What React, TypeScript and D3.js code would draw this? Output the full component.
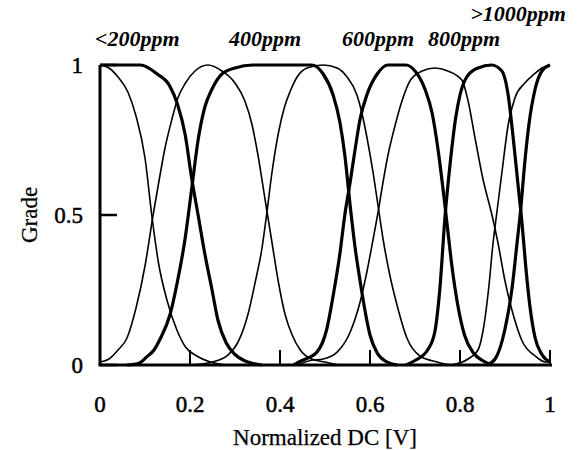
import React from 'react';
import * as d3 from 'd3';

// membership curves: [normalized DC, grade]
const thinA = [[0, 1], [0.02, 0.99], [0.04, 0.96], [0.062, 0.91], [0.08, 0.83], [0.1, 0.69], [0.115, 0.5], [0.13, 0.34], [0.15, 0.21], [0.17, 0.12], [0.19, 0.06], [0.215, 0.03], [0.245, 0.01], [0.28, 0]];
const thinB = [[0, 0.01], [0.02, 0.02], [0.04, 0.05], [0.06, 0.09], [0.08, 0.19], [0.1, 0.33], [0.118, 0.5], [0.133, 0.63], [0.144, 0.72], [0.16, 0.82], [0.173, 0.89], [0.19, 0.94], [0.211, 0.98], [0.24, 1], [0.271, 0.98], [0.3, 0.94], [0.322, 0.88], [0.338, 0.8], [0.351, 0.7], [0.367, 0.55], [0.382, 0.41], [0.396, 0.28], [0.411, 0.17], [0.427, 0.1], [0.445, 0.05], [0.47, 0.02], [0.5, 0.01], [0.53, 0]];
const thinC = [[0.2, 0], [0.25, 0.01], [0.284, 0.033], [0.307, 0.077], [0.329, 0.17], [0.344, 0.27], [0.36, 0.39], [0.371, 0.51], [0.382, 0.64], [0.396, 0.77], [0.41, 0.86], [0.422, 0.91], [0.438, 0.96], [0.46, 0.99], [0.496, 1], [0.527, 0.99], [0.549, 0.96], [0.571, 0.9], [0.582, 0.84], [0.593, 0.76], [0.607, 0.64], [0.618, 0.53], [0.629, 0.42], [0.644, 0.3], [0.66, 0.2], [0.682, 0.09], [0.711, 0.03], [0.749, 0.01], [0.78, 0]];
const thinD = [[0.44, 0], [0.467, 0.015], [0.496, 0.02], [0.527, 0.043], [0.556, 0.11], [0.578, 0.21], [0.593, 0.31], [0.607, 0.42], [0.618, 0.51], [0.629, 0.61], [0.64, 0.7], [0.656, 0.8], [0.671, 0.88], [0.69, 0.95], [0.716, 0.98], [0.744, 0.99], [0.773, 0.98], [0.804, 0.95], [0.818, 0.88], [0.833, 0.76], [0.851, 0.62], [0.871, 0.5], [0.884, 0.41], [0.9, 0.28], [0.916, 0.18], [0.938, 0.08], [0.967, 0.03], [0.99, 0.01], [1, 0.01]];
const thinE = [[0.78, 0], [0.818, 0.02], [0.84, 0.05], [0.853, 0.13], [0.864, 0.26], [0.873, 0.4], [0.882, 0.51], [0.893, 0.64], [0.907, 0.8], [0.922, 0.89], [0.944, 0.94], [0.965, 0.97], [0.982, 0.99], [1, 1]];

const thick200 = [[0, 1], [0.09, 1], [0.127, 0.97], [0.155, 0.93], [0.172, 0.87], [0.189, 0.77], [0.204, 0.62], [0.218, 0.5], [0.233, 0.37], [0.249, 0.25], [0.262, 0.15], [0.28, 0.075], [0.3, 0.035], [0.32, 0.015], [0.34, 0.005], [0.36, 0]];
const thick400 = [[0.06, 0], [0.085, 0.005], [0.104, 0.027], [0.12, 0.05], [0.133, 0.085], [0.156, 0.17], [0.171, 0.27], [0.189, 0.42], [0.204, 0.59], [0.218, 0.75], [0.233, 0.86], [0.249, 0.92], [0.271, 0.97], [0.3, 0.99], [0.34, 1], [0.47, 1], [0.496, 0.97], [0.518, 0.9], [0.533, 0.81], [0.544, 0.7], [0.556, 0.53], [0.567, 0.39], [0.578, 0.28], [0.589, 0.18], [0.6, 0.1], [0.616, 0.04], [0.638, 0.01], [0.66, 0]];
const thick600 = [[0.43, 0], [0.449, 0.015], [0.482, 0.043], [0.504, 0.12], [0.518, 0.23], [0.533, 0.37], [0.544, 0.5], [0.556, 0.61], [0.567, 0.72], [0.578, 0.82], [0.593, 0.9], [0.616, 0.97], [0.64, 1], [0.68, 1], [0.7, 0.98], [0.722, 0.92], [0.738, 0.84], [0.751, 0.72], [0.762, 0.59], [0.772, 0.46], [0.782, 0.33], [0.795, 0.2], [0.81, 0.1], [0.83, 0.04], [0.85, 0.015], [0.87, 0]];
const thick800 = [[0.68, 0], [0.7, 0.015], [0.728, 0.05], [0.744, 0.11], [0.755, 0.25], [0.767, 0.5], [0.778, 0.67], [0.79, 0.82], [0.8, 0.9], [0.815, 0.96], [0.84, 0.99], [0.87, 1], [0.893, 0.98], [0.907, 0.9], [0.918, 0.76], [0.929, 0.6], [0.938, 0.47], [0.946, 0.33], [0.955, 0.2], [0.967, 0.09], [0.982, 0.035], [1, 0.01]];
const thick1000 = [[0.86, 0], [0.878, 0.02], [0.9, 0.12], [0.916, 0.26], [0.927, 0.41], [0.935, 0.52], [0.943, 0.66], [0.953, 0.8], [0.967, 0.92], [0.982, 0.98], [1, 1]];

const thinCurves = [thinA, thinB, thinC, thinD, thinE];
const thickCurves = [thick200, thick400, thick600, thick800, thick1000];

const ppmLabels = ['<200ppm', '400ppm', '600ppm', '800ppm', '>1000ppm'];
const xTicks = [0, 0.2, 0.4, 0.6, 0.8, 1];
const yTicks = [0, 0.5, 1];

// where the ppm labels sit (x in data units, baseline in px)
const labelAt = [[0.083, 46], [0.367, 46], [0.618, 46], [0.809, 46], [0.929, 21]];

const W = 580, H = 450;
const margin = { top: 65, right: 30, bottom: 85, left: 100 };
const font = '"Liberation Serif", "Times New Roman", serif';

export default function App() {
  const x = d3.scaleLinear().domain([0, 1]).range([margin.left, W - margin.right]);
  const y = d3.scaleLinear().domain([0, 1]).range([H - margin.bottom, margin.top]);

  const line = d3.line<number[]>()
    .x(d => x(d[0]))
    .y(d => y(d[1]))
    .curve(d3.curveMonotoneX);

  const y0 = y(0);

  return (
    <svg width={W} height={H} style={{ position: 'absolute', left: 0, top: 0, background: '#fff' }}>
      {/* curves */}
      {thinCurves.map((c, i) => (
        <path key={'t' + i} d={line(c) || ''} fill="none" stroke="#000" strokeWidth={1.6} strokeLinejoin="round" />
      ))}
      {thickCurves.map((c, i) => (
        <path key={'k' + i} d={line(c) || ''} fill="none" stroke="#000" strokeWidth={3.2} strokeLinejoin="round" />
      ))}

      {/* axes */}
      <line x1={x(0)} x2={x(0)} y1={y(1)} y2={y0} stroke="#000" strokeWidth={3} />
      <line x1={x(0) - 1.5} x2={x(1) + 2} y1={y0} y2={y0} stroke="#000" strokeWidth={3} />
      {xTicks.map(t => (
        <g key={'x' + t}>
          <line x1={x(t)} x2={x(t)} y1={y0} y2={y0 - 15} stroke="#000" strokeWidth={2} />
          <text x={x(t)} y={y0 + 47} textAnchor="middle" fontFamily={font} fontSize={23}
            stroke="#000" strokeWidth={0.5}>{t}</text>
        </g>
      ))}
      {yTicks.map(t => (
        <g key={'y' + t}>
          <line x1={x(0)} x2={x(0) + 17} y1={y(t)} y2={y(t)} stroke="#000" strokeWidth={2.5} />
          <text x={x(0) - 17} y={y(t) + 8} textAnchor="end" fontFamily={font} fontSize={23}
            stroke="#000" strokeWidth={0.5}>{t}</text>
        </g>
      ))}

      {/* axis titles */}
      <text x={(x(0) + x(1)) / 2} y={H - 5} textAnchor="middle" fontFamily={font} fontSize={23}
        stroke="#000" strokeWidth={0.25}>Normalized DC [V]</text>
      <text transform={`translate(37, ${y(0.5)}) rotate(-90)`} textAnchor="middle" fontFamily={font} fontSize={23}
        stroke="#000" strokeWidth={0.25}>Grade</text>

      {/* ppm labels */}
      {ppmLabels.map((l, i) => (
        <text key={l} x={x(labelAt[i][0])} y={labelAt[i][1]} textAnchor="middle" fontFamily={font}
          fontSize={22} fontStyle="italic" fontWeight="bold">{l}</text>
      ))}
    </svg>
  );
}
